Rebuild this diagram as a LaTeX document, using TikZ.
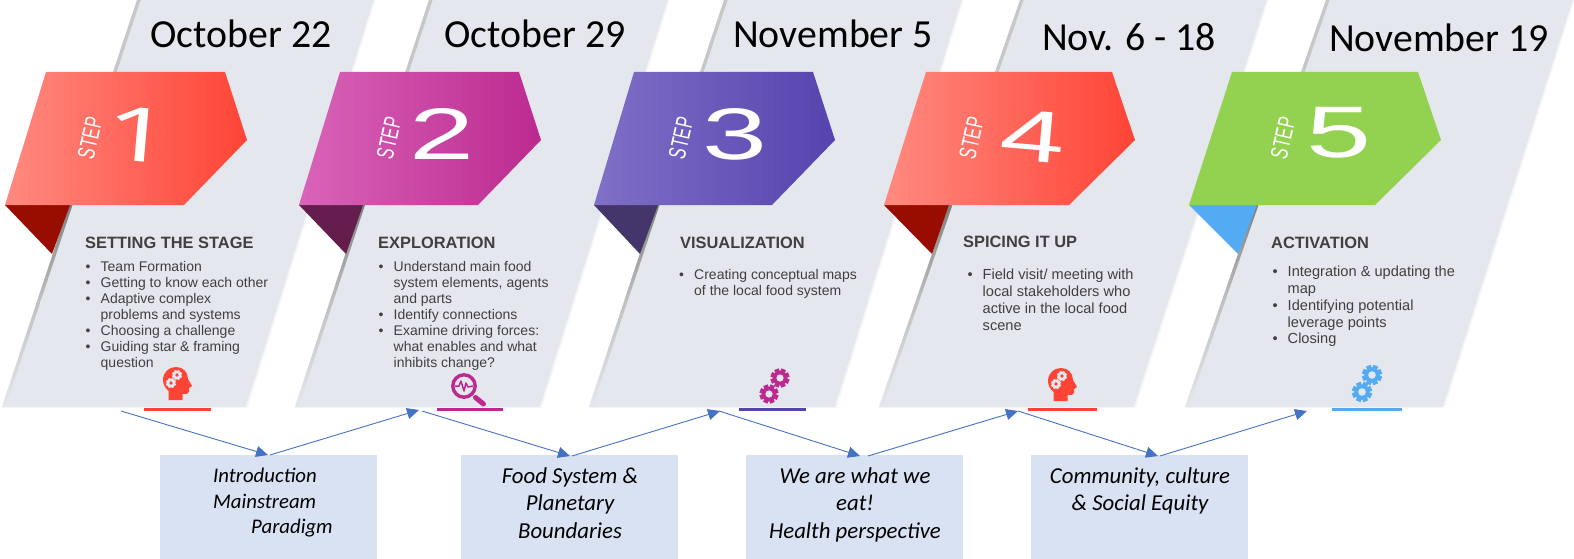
\documentclass[tikz,border=0pt]{standalone}
\usepackage{fontspec}
\setmainfont{Liberation Sans}
\newfontfamily\datefont{Carlito}
\newfontfamily\onefont{Open Sans}
\usetikzlibrary{arrows.meta}
\definecolor{panelc}{HTML}{E4E7ED}
\definecolor{boxc}{HTML}{D9E2F3}
\definecolor{arrowc}{HTML}{4472C4}
\definecolor{txtc}{HTML}{404040}
\definecolor{redl}{HTML}{FF8A80}
\definecolor{redd}{HTML}{FF4436}
\definecolor{redf}{HTML}{990C00}
\definecolor{magl}{HTML}{D964B8}
\definecolor{magd}{HTML}{BC2A90}
\definecolor{magf}{HTML}{651D4D}
\definecolor{purl}{HTML}{8070C6}
\definecolor{purd}{HTML}{5643AE}
\definecolor{purf}{HTML}{44356A}
\definecolor{greenc}{HTML}{93D250}
\definecolor{bluef}{HTML}{52ABF3}
\tikzset{
  box/.style={fill=boxc,inner sep=0pt,anchor=north west},
  boxtext/.style={font=\datefont\itshape\fontsize{22.8}{27.5}\selectfont,align=center,inner sep=0pt,anchor=base,text=black},
  boxsmall/.style={font=\datefont\itshape\fontsize{20.8}{25.5}\selectfont,inner sep=0pt,anchor=base west,text=black},
  datetext/.style={font=\datefont\fontsize{39.8}{44}\selectfont,inner sep=0pt,anchor=base,text=black},
  heading/.style={font=\bfseries\fontsize{16.4}{18}\selectfont,text=txtc,inner sep=0pt,anchor=west},
  bodytext/.style={font=\fontsize{14}{16.1}\selectfont,text=txtc,inner sep=0pt,anchor=north west,align=left},
  bodybig/.style={font=\fontsize{14.6}{16.8}\selectfont,text=txtc,inner sep=0pt,anchor=north west,align=left},
  steptext/.style={font=\fontsize{24}{26}\selectfont,text=white,inner sep=0pt,rotate=77},
  numtext/.style={font=\fontsize{73}{73}\selectfont,text=white,inner sep=0pt},
  conn/.style={draw=arrowc,line width=0.9pt,-{Triangle[length=12pt,width=11pt]}},
  under/.style={line width=2.6pt}
}
\newcommand{\paneldraw}[4]{%
  \pgfmathsetmacro{\xa}{#1-(#1-#3)*0.17690}%
  \pgfmathsetmacro{\xb}{#1-(#1-#3)*0.50369}%
  \pgfmathsetmacro{\xc}{#1-(#1-#3)*0.73710}%
  \fill[panelc] (#1,0) -- (#2,0) -- (#4,407) -- (#3,407) -- cycle;
  \fill[white!60!panelc] (#2,0) -- (#2+1.5,0) -- (#4+1.5,408) -- (#3,408) -- (#3,407) -- (#4,407) -- cycle;
  \fill[black!22] (#1,0) -- (#1+3.5,0) -- (\xa+3.5,72) -- (\xa,72) -- cycle;
  \shade[top color=black!50,bottom color=black!25] (\xb,205) -- (\xb+3.5,205) -- (\xc+3.5,300) -- (\xc,300) -- cycle;
  \shade[top color=black!25,bottom color=panelc] (\xc,300) -- (\xc+3.5,300) -- (#3+3.5,407) -- (#3,407) -- cycle;
}
\newcommand{\ribbon}[6]{% x1 x2 x3 x4 x5 style
  \path[#6] (#1,72) -- (#2,72) -- (#3,140) -- (#4,205) -- (#5,205) -- cycle;
}
\newcommand{\gearicon}[5]{%
  \begin{scope}[shift={(#1,#2)}]
    \fill[#4] (0,0) circle (0.76*#3);
    \foreach \ang in {0,45,...,315}{\fill[#4,rotate=\ang+22] (-0.25*#3,0) rectangle (0.25*#3,#3);}
    \fill[#5] (0,0) circle (0.38*#3);
  \end{scope}
}
\newcommand{\headicon}[2]{%
  \begin{scope}[shift={(#1,#2)}]
    \fill[redd] (5.5,33) -- (5.5,24) .. controls (2,21) and (0,17) .. (0,13)
      .. controls (0,5) and (6,0) .. (13,0) .. controls (20,0) and (25,5) .. (25,12)
      -- (29,19) -- (26,21) -- (26,25) .. controls (26,27) and (23,27) .. (19.5,27) -- (19.5,33) -- cycle;
  \end{scope}
  \gearicon{#1+14}{#2+8}{5}{panelc}{redd}
  \gearicon{#1+8}{#2+16}{5}{panelc}{redd}
}
\newcommand{\bl}{\makebox[15pt][l]{\textbullet}}
\newcommand{\bc}{\hspace*{15pt}}
\newcommand{\stepword}{\scalebox{.66}[1]{STEP}}
\begin{document}
\begin{tikzpicture}[x=1pt,y=-1pt]
\useasboundingbox (0,0) rectangle (1574,559);
% panels
\paneldraw{137}{374}{2}{246}
\paneldraw{429}{668}{295}{540}
\paneldraw{724}{962}{589}{835}
\paneldraw{1020}{1267}{879}{1134}
\paneldraw{1326}{1573}{1185}{1443}
% folds
\fill[redf] (5,205) -- (70,205) -- (52,254) -- cycle;
\fill[magf] (299,205) -- (363,205) -- (346,254) -- cycle;
\fill[purf] (594,205) -- (658,205) -- (640,254) -- cycle;
\fill[redf] (884,205) -- (949,205) -- (932,254) -- cycle;
\fill[bluef] (1189,205) -- (1257,205) -- (1238,254) -- cycle;
% ribbons
\ribbon{46}{225}{247}{184}{5}{shade,left color=redl,right color=redd}
\ribbon{340}{519}{541}{478}{299}{shade,left color=magl,right color=magd}
\ribbon{634}{813}{835}{772}{594}{shade,left color=purl,right color=purd}
\ribbon{926}{1112}{1135}{1069}{884}{shade,left color=redl,right color=redd}
\ribbon{1232}{1418}{1441}{1375}{1189}{fill=greenc}
% dates
\node[datetext] (d1) at (241,48) {October 22};
\node[datetext] (d2) at (535,48) {October 29};
\node[datetext] (d3) at (833,48) {November 5};
\node[datetext] (d4) at (1129,51) {Nov. 6 - 18};
\node[datetext] (d5) at (1439,52) {November 19};
% step labels
\node[steptext] (s1) at (90,138) {\stepword};
\node[steptext] (s2) at (389,138) {\stepword};
\node[steptext] (s3) at (681,138) {\stepword};
\node[steptext] (s4) at (971.5,138) {\stepword};
\node[steptext] (s5) at (1283,138) {\stepword};
\node[numtext,rotate=-5,font=\onefont\fontsize{75}{75}\selectfont] (n1) at (139,135) {\scalebox{1.6}[1]{1}};
\node[numtext] (n2) at (442,134) {\scalebox{1.6}[1]{2}};
\node[numtext] (n3) at (735,134.5) {\scalebox{1.6}[1]{3}};
\node[numtext,rotate=-5] (n4) at (1033,136) {\scalebox{1.6}[1]{4}};
\node[numtext] (n5) at (1339,133) {\scalebox{1.6}[1]{5}};
% headings
\node[heading] (h1) at (85,243) {SETTING THE STAGE};
\node[heading] (h2) at (378,243) {EXPLORATION};
\node[heading] (h3) at (680,243) {VISUALIZATION};
\node[heading] (h4) at (963,241.5) {SPICING IT UP};
\node[heading] (h5) at (1271,243) {ACTIVATION};
% bullets
\node[bodytext] (b1) at (85.5,261) {\bl Team Formation\\\bl Getting to know each other\\\bl Adaptive complex\\\bc problems and systems\\\bl Choosing a challenge\\\bl Guiding star \& framing\\\bc question};
\node[bodytext] (b2) at (378.5,261) {\bl Understand main food\\\bc system elements, agents\\\bc and parts\\\bl Identify connections\\\bl Examine driving forces:\\\bc what enables and what\\\bc inhibits change?};
\node[bodytext] (b3) at (679,269) {\bl Creating conceptual maps\\\bc of the local food system};
\node[bodybig] (b4) at (967.5,269) {\bl Field visit/ meeting with\\\bc local stakeholders who\\\bc active in the local food\\\bc scene};
\node[bodybig] (b5) at (1272.5,266) {\bl Integration \& updating the\\\bc map\\\bl Identifying potential\\\bc leverage points\\\bl Closing};
% icons
\headicon{163}{367}
\headicon{1048}{368}
\draw[magd,line width=3.4pt] (464,386) circle (11.2);
\draw[magd,line width=5pt,line cap=round] (475.5,397.5) -- (483.5,404);
\draw[magd,line width=1.5pt,line join=round] (455,386) -- (459,386) -- (461,381) -- (464,391) -- (466,383) -- (468,387) -- (473,386);
\gearicon{780}{378}{9.5}{magd}{panelc}
\gearicon{769}{394}{9.5}{magd}{panelc}
\gearicon{1372}{375}{10}{bluef}{panelc}
\gearicon{1362}{392}{10}{bluef}{panelc}
% underlines
\draw[under,redd] (144,409.7) -- (211,409.7);
\draw[under,magd] (437,409.7) -- (503,409.7);
\draw[under,purd] (739,409.7) -- (806,409.7);
\draw[under,redd] (1028,409.7) -- (1097,409.7);
\draw[under,bluef] (1332,409.7) -- (1402,409.7);
% boxes
\node[box,minimum width=217pt,minimum height=104pt] (box1) at (160,455) {};
\node[box,minimum width=217pt,minimum height=104pt] (box2) at (461,455) {};
\node[box,minimum width=217pt,minimum height=104pt] (box3) at (746,455) {};
\node[box,minimum width=217pt,minimum height=104pt] (box4) at (1031,455) {};
\node[boxsmall] (t1a) at (213,482.5) {Introduction};
\node[boxsmall] (t1b) at (213,508) {Mainstream};
\node[boxsmall] (t1c) at (251,533.5) {Paradigm};
\node[boxtext] (t2) at (570,538) {Food System \&\\Planetary\\Boundaries};
\node[boxtext] (t3) at (855,538) {We are what we\\eat!\\Health perspective};
\node[boxtext] (t4) at (1140,510.5) {Community, culture\\\& Social Equity};
% connector ends
\coordinate (p1) at (121,411);
\coordinate (p2) at (268,455);
\coordinate (p3) at (270,455);
\coordinate (p4) at (419,410);
\coordinate (p5) at (422,411);
\coordinate (p6) at (570,456);
\coordinate (p7) at (572,456);
\coordinate (p8) at (720,411);
\coordinate (p9) at (719,411);
\coordinate (p10) at (860,456);
\coordinate (p11) at (868,456);
\coordinate (p12) at (1018,411);
\coordinate (p13) at (1018,411);
\coordinate (p14) at (1158,456);
\coordinate (p15) at (1160,456);
\coordinate (p16) at (1307,411);
\draw[conn] (p1) -- (p2);
\draw[conn] (p3) -- (p4);
\draw[conn] (p5) -- (p6);
\draw[conn] (p7) -- (p8);
\draw[conn] (p9) -- (p10);
\draw[conn] (p11) -- (p12);
\draw[conn] (p13) -- (p14);
\draw[conn] (p15) -- (p16);
\end{tikzpicture}
\end{document}
